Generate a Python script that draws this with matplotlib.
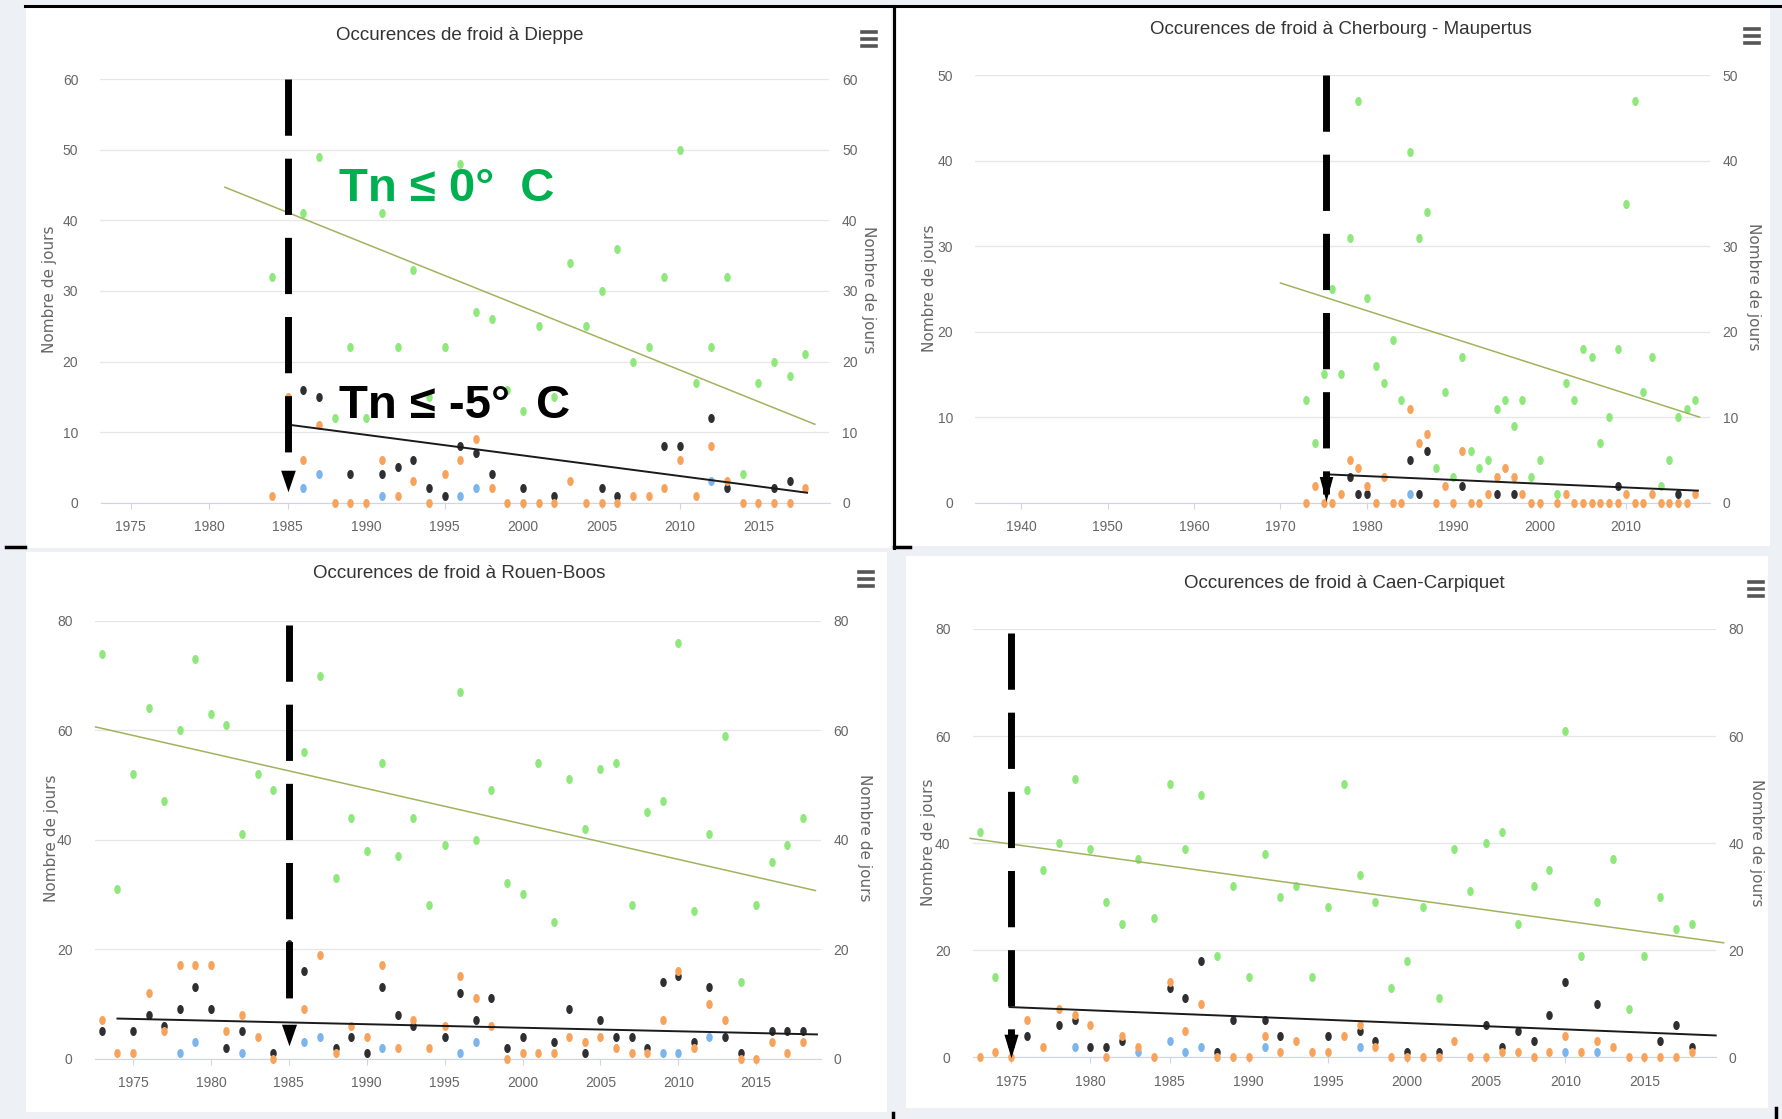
import numpy as np
import matplotlib.pyplot as plt
from matplotlib.path import Path
from matplotlib.lines import Line2D
from matplotlib.patches import Rectangle

plt.rcParams['font.family'] = ['Liberation Sans', 'DejaVu Sans']

N = np.nan
W, H = 1783, 1119

# ---------------- data (jours par an) ----------------
# Dieppe
dieppe_years = np.arange(1984, 2019)
dieppe_tn0 = [32, N, 41, 49, 12, 22, 12, 41, 22, 33, 15, 22, 48, 27, 26, 16, 13, 25, 15, 34,
              25, 30, 36, 20, 22, 32, 50, 17, 22, 32, 4, 17, 20, 18, 21]
dieppe_tx0 = [1, 15, 6, 11, 0, 0, 0, 6, 1, 3, 0, 4, 6, 9, 2, 0, 0, 0, 0, 3,
              0, 0, 0, 1, 1, 2, 6, 1, 8, 3, 0, 0, 0, 0, 2]
dieppe_tn5 = [N, N, 16, 15, N, 4, N, 4, 5, 6, 2, 1, 8, 7, 4, N, 2, N, 1, N,
              N, 2, 1, N, N, 8, 8, N, 12, 2, N, N, 2, 3, N]
dieppe_tn10 = [N, N, 2, 4, N, N, N, 1, N, N, N, N, 1, 2, N, N, N, N, N, N,
               N, N, N, N, N, N, N, N, 3, N, N, N, N, N, N]
dieppe_trend0 = ([1981.0, 2018.6], [44.7, 11.1])
dieppe_trend5 = ([1985.2, 2018.1], [11.0, 1.4])

# Cherbourg - Maupertus
cherbourg_years = np.arange(1973, 2019)
cherbourg_tn0 = [12, 7, 15, 25, 15, 31, 47, 24, 16, 14, 19, 12, 41, 31, 34, 4, 13, 3, 17, 6,
                 4, 5, 11, 12, 9, 12, 3, 5, N, 1, 14, 12, 18, 17, 7, 10, 18, 35, 47, 13,
                 17, 2, 5, 10, 11, 12]
cherbourg_tx0 = [0, 2, 0, 0, 1, 5, 4, 2, 0, 3, 0, 0, 11, 7, 8, 0, 2, 0, 6, 0,
                 0, 1, 3, 4, 3, 1, 0, 0, N, 0, 1, 0, 0, 0, 0, 0, 0, 1, 0, 0,
                 1, 0, 0, 0, 0, 1]
cherbourg_tn5 = [N, N, N, N, N, 3, 1, 1, N, N, N, N, 5, 1, 6, N, N, N, 2, N,
                 N, N, 1, N, 1, N, N, N, N, N, N, N, N, N, N, N, 2, N, N, N,
                 N, N, N, 1, N, N]
cherbourg_tn10 = [N] * 12 + [1] + [N] * 33
cherbourg_trend0 = ([1970.0, 2018.5], [25.7, 10.0])
cherbourg_trend5 = ([1975.5, 2018.3], [3.3, 1.4])

# Rouen-Boos
rouen_years = np.arange(1973, 2019)
rouen_tn0 = [74, 31, 52, 64, 47, 60, 73, 63, 61, 41, 52, 49, N, 56, 70, 33, 44, 38, 54, 37,
             44, 28, 39, 67, 40, 49, 32, 30, 54, 25, 51, 42, 53, 54, 28, 45, 47, 76, 27, 41,
             59, 14, 28, 36, 39, 44]
rouen_tx0 = [7, 1, 1, 12, 5, 17, 17, 17, 5, 8, 4, 0, 20, 9, 19, 1, 6, 4, 17, 2,
             7, 2, 6, 15, 11, 6, 0, 1, 1, 1, 4, 3, 4, 2, 1, 1, 7, 16, 2, 10,
             7, 0, 0, 3, 1, 3]
rouen_tn5 = [5, N, 5, 8, 6, 9, 13, 9, 2, 5, N, 1, 21, 16, N, 2, 4, 1, 13, 8,
             6, N, 4, 12, 7, 11, 2, 4, N, 3, 9, 1, 7, 4, 4, 2, 14, 15, 3, 13,
             4, 1, N, 5, 5, 5]
rouen_tn10 = [N, N, N, N, N, 1, 3, N, N, 1, N, N, N, 3, 4, N, N, N, 2, N,
              N, N, N, 1, 3, N, N, N, N, N, N, N, N, N, N, N, 1, 1, N, 4,
              N, N, N, N, N, N]
rouen_trend0 = ([1972.6, 2018.8], [60.6, 30.7])
rouen_trend5 = ([1974.0, 2018.9], [7.3, 4.4])

# Caen-Carpiquet
caen_years = np.arange(1973, 2019)
caen_tn0 = [42, 15, N, 50, 35, 40, 52, 39, 29, 25, 37, 26, 51, 39, 49, 19, 32, 15, 38, 30,
            32, 15, 28, 51, 34, 29, 13, 18, 28, 11, 39, 31, 40, 42, 25, 32, 35, 61, 19, 29,
            37, 9, 19, 30, 24, 25]
caen_tx0 = [0, 1, 0, 7, 2, 9, 8, 6, 0, 4, 2, 0, 14, 5, 10, 0, 0, 0, 4, 1,
            3, 1, 1, 4, 6, 2, 0, 0, 0, 0, 3, 0, 0, 1, 1, 0, 1, 4, 1, 3,
            2, 0, 0, 0, 0, 1]
caen_tn5 = [N, N, N, 4, N, 6, 7, 2, 2, 3, N, N, 13, 11, 18, 1, 7, N, 7, 4,
            N, N, 4, N, 5, 3, N, 1, N, 1, N, N, 6, 2, 5, 3, 8, 14, N, 10,
            N, N, N, 3, 6, 2]
caen_tn10 = [N, N, N, N, N, N, 2, N, N, N, 1, N, 3, 1, 2, N, N, N, 2, N,
             N, N, N, N, 2, N, N, N, N, N, N, N, N, N, N, N, N, 1, N, 1,
             N, N, N, N, N, N]
caen_trend0 = ([1972.4, 2020.0], [40.9, 21.4])
caen_trend5 = ([1974.9, 2019.5], [9.4, 4.1])

# ---------------- style ----------------
C_TN0 = '#8ee87c'
C_TN5 = '#2e2e33'
C_TX0 = '#f7a35c'
C_TN10 = '#7cb5ec'
C_GRID = '#e6e6e6'
C_AXIS = '#ccd6eb'
C_LAB = '#666666'

t = np.linspace(0, 2 * np.pi, 40)
DOT = Path(np.column_stack([0.72 * np.cos(t), np.sin(t)]), closed=True)


def tri(half):
    return Path([(-half, 0.5), (half, 0.5), (0, -0.5), (-half, 0.5)], closed=True)


def fx(x):
    return x / W


def fy(y):
    return 1 - y / H


fig = plt.figure(figsize=(W / 100, H / 100), dpi=100, facecolor='#edf1f5')

# white panel backgrounds (screenshot frames)
for x0, y0, x1, y1 in [(26, 7, 891, 548), (897, 7, 1770, 546), (26, 552, 887, 1112), (906, 556, 1768, 1108)]:
    fig.add_artist(Rectangle((fx(x0), fy(y1)), (x1 - x0) / W, (y1 - y0) / H,
                             transform=fig.transFigure, facecolor='white', edgecolor='none', zorder=0))


def panel(box, xlim, ymax, ystep, xticks, years, tn0, tx0, tn5, tn10, trend0, trend5,
          title, title_xy, lab_l, lab_r, menu_xy, arrow):
    left, top, right, bottom = box
    ax = fig.add_axes([fx(left), fy(bottom), (right - left) / W, (bottom - top) / H])
    ax.set_facecolor('none')
    ax.set_xlim(*xlim)
    ax.set_ylim(0, ymax)
    ax.set_xticks(xticks)
    ax.set_yticks(np.arange(0, ymax + 1, ystep))
    ax.yaxis.grid(True, color=C_GRID, lw=0.9)
    ax.set_axisbelow(True)
    for s in ['top', 'left', 'right']:
        ax.spines[s].set_visible(False)
    ax.spines['bottom'].set_color(C_AXIS)
    ax.tick_params(axis='x', length=4.5, color=C_AXIS, pad=8, labelsize=10, labelcolor=C_LAB)
    ax.tick_params(axis='y', length=0, pad=16, labelsize=10, labelcolor=C_LAB)

    ax2 = ax.twinx()
    ax2.set_ylim(0, ymax)
    ax2.set_yticks(np.arange(0, ymax + 1, ystep))
    for s in ax2.spines.values():
        s.set_visible(False)
    ax2.tick_params(axis='y', length=0, pad=9, labelsize=10, labelcolor=C_LAB)

    kw = dict(ls='none', marker=DOT, ms=6.5, mew=0, clip_on=False)
    ax.plot(years, tn10, color=C_TN10, zorder=3, **kw)
    ax.plot(years, tn5, color=C_TN5, zorder=4, **kw)
    ax.plot(years, tn0, color=C_TN0, zorder=5, **kw)
    ax.plot(years, tx0, color=C_TX0, zorder=6, **kw)
    ax.plot(*trend0, color='#9fb35e', lw=1.1, zorder=7, clip_on=False)
    ax.plot(*trend5, color='#1a1a1a', lw=1.4, zorder=7, clip_on=False)

    # thick dashed marker + arrow head
    ax_x, y_top, y_end, tri_y, tri_ms, tri_half = arrow
    ax.plot([ax_x, ax_x], [y_top, y_end], color='black', lw=5, dashes=(8.1, 3.3),
            zorder=9, clip_on=False)
    ax.plot([ax_x], [tri_y], ls='none', marker=tri(tri_half), ms=tri_ms, color='black',
            mew=0, zorder=9, clip_on=False)

    fig.text(fx(title_xy[0]), fy(title_xy[1]), title, ha='center', va='center',
             fontsize=13.5, color='#333333')
    fig.text(fx(lab_l[0]), fy(lab_l[1]), 'Nombre de jours', rotation=90, ha='center',
             va='center', fontsize=11, color=C_LAB, family='DejaVu Sans')
    fig.text(fx(lab_r[0]), fy(lab_r[1]), 'Nombre de jours', rotation=270, ha='center',
             va='center', fontsize=11, color=C_LAB, family='DejaVu Sans')
    mx, my = menu_xy
    for dy in (-7, 0, 7):
        fig.add_artist(Line2D([fx(mx - 7), fx(mx + 7)], [fy(my + dy), fy(my + dy)],
                              transform=fig.transFigure, color='#555555', lw=2.6))
    return ax


ax1 = panel((100.5, 79.3, 829.5, 502.6), (1973.07, 2019.53), 60, 10, np.arange(1975, 2016, 5),
            dieppe_years, dieppe_tn0, dieppe_tx0, dieppe_tn5, dieppe_tn10, dieppe_trend0, dieppe_trend5,
            'Occurences de froid à Dieppe', (460, 35), (50, 289), (869, 290), (869, 39),
            (1985, 60, 7.0, 3.1, 15.5, 0.34))
panel((975.4, 75.4, 1710, 502.6), (1934.7, 2019.7), 50, 10, np.arange(1940, 2011, 10),
      cherbourg_years, cherbourg_tn0, cherbourg_tx0, cherbourg_tn5, cherbourg_tn10,
      cherbourg_trend0, cherbourg_trend5,
      'Occurences de froid à Cherbourg - Maupertus', (1341, 30), (930, 288), (1754, 287), (1752, 36),
      (1975.3, 50, 1.0, 1.6, 18, 0.27))
panel((94.7, 620.8, 821, 1058.5), (1972.54, 2019.16), 80, 20, np.arange(1975, 2016, 5),
      rouen_years, rouen_tn0, rouen_tx0, rouen_tn5, rouen_tn10, rouen_trend0, rouen_trend5,
      'Occurences de froid à Rouen-Boos', (459, 574), (52, 838), (865, 838), (866, 579),
      (1985, 79.3, 9.3, 4.3, 15.5, 0.35))
panel((972.6, 629, 1715.7, 1057.4), (1972.56, 2019.5), 80, 20, np.arange(1975, 2016, 5),
      caen_years, caen_tn0, caen_tx0, caen_tn5, caen_tn10, caen_trend0, caen_trend5,
      'Occurences de froid à Caen-Carpiquet', (1344, 584), (928, 842), (1757, 843), (1756, 589),
      (1975, 79.3, 2.0, 2.1, 17, 0.3))

# annotations on Dieppe
ax1.text(1988.25, 42.7, 'Tn ≤ 0°  C', color='#00b050', fontsize=34, fontweight='bold',
         va='baseline', zorder=10)
ax1.text(1988.25, 12.0, 'Tn ≤ -5°  C', color='black', fontsize=34, fontweight='bold',
         va='baseline', zorder=10)

# black frame pieces of the screenshot collage
for xs, ys, lw in [((25, 1783), (6, 6), 2.2), ((894, 894), (6, 548), 2.2),
                   ((6, 25), (547, 547), 2.5), ((894, 910), (547, 547), 2.5),
                   ((1776, 1776), (1108, 1119), 2.5), ((893, 893), (1113, 1119), 2.5)]:
    fig.add_artist(Line2D([fx(x) for x in xs], [fy(y) for y in ys], transform=fig.transFigure,
                          color='black', lw=lw))

fig.savefig('out.png', dpi=100, facecolor=fig.get_facecolor())
